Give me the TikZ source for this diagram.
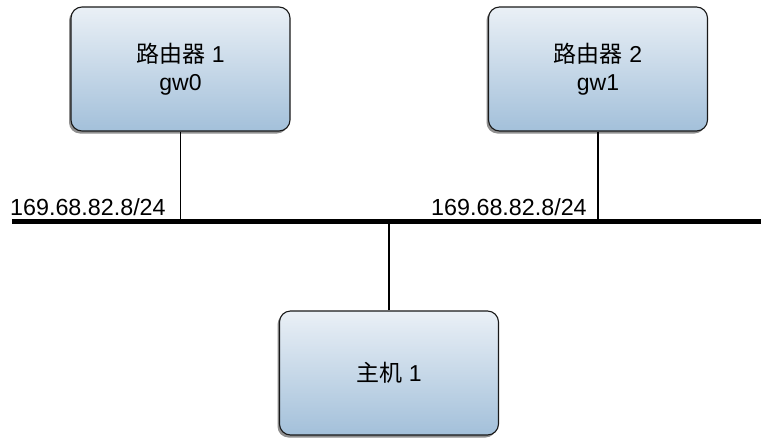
\documentclass[tikz,border=0pt]{standalone}
\usepackage{fontspec}
\setmainfont{Liberation Sans}
\newfontfamily\cjk{Noto Sans CJK SC}
\usetikzlibrary{shadows}
\definecolor{boxtop}{HTML}{EAF0F6}
\definecolor{boxbot}{HTML}{A3C0DA}
\tikzset{
  devbox/.style={draw=black!90, line width=1.1pt, rounded corners=11pt,
    top color=boxtop, bottom color=boxbot, minimum width=219pt, minimum height=124pt,
    align=center, font=\fontsize{23}{28}\selectfont, inner sep=0pt,
    drop shadow={shadow xshift=-2pt, shadow yshift=-2.5pt, fill=black!55, opacity=0.8}},
  link/.style={draw=black, line width=1.3pt},
  bus/.style={draw=black, line width=5pt},
  addr/.style={font=\fontsize{23.3}{26}\selectfont, anchor=base west, inner sep=0pt}
}
\begin{document}
\begin{tikzpicture}[x=1pt, y=-1pt]
  \useasboundingbox (0,0) rectangle (761,437);
  % routers and host
  \node[devbox] (r1) at (180.5,69) {{\cjk 路由器} 1\\gw0};
  \node[devbox] (r2) at (598,69) {{\cjk 路由器} 2\\gw1};
  \node[devbox] (h1) at (389,373) {{\cjk 主机} 1};
  % shared network segment
  \coordinate (busL) at (12,221);
  \coordinate (busR) at (761,221);
  \draw[bus] (busL) -- (busR);
  \coordinate (t1) at (r1.south |- busL);
  \coordinate (t2) at (r2.south |- busL);
  \coordinate (th) at (h1.north |- busL);
  \draw[link] (r1.south) -- (t1);
  \draw[link] (r2.south) -- (t2);
  \draw[link] (h1.north) -- (th);
  % interface addresses
  \node[addr] (a1) at (10,215) {169.68.82.8/24};
  \node[addr] (a2) at (431,215) {169.68.82.8/24};
\end{tikzpicture}
\end{document}
